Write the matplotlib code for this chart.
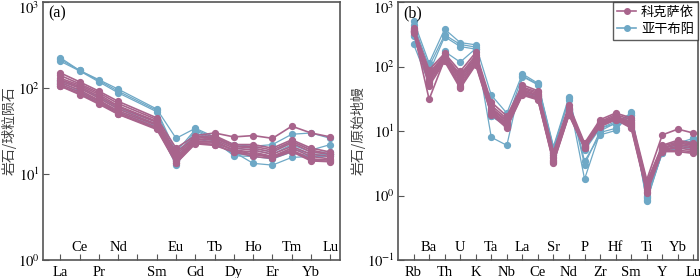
import numpy as np
import matplotlib
matplotlib.use('Agg')
import matplotlib.pyplot as plt
import matplotlib.transforms as mtransforms

plt.rcParams['font.family'] = ['serif', 'Noto Sans CJK SC']
plt.rcParams['font.serif'] = ['Liberation Serif', 'DejaVu Serif']
plt.rcParams['mathtext.fontset'] = 'stix'

# REE (chondrite normalised), Pm has a tick but no data
ree_ticks = ['La', 'Ce', 'Pr', 'Nd', 'Pm', 'Sm', 'Eu', 'Gd', 'Tb', 'Dy', 'Ho', 'Er', 'Tm', 'Yb', 'Lu']
ree_elems = ['La', 'Ce', 'Pr', 'Nd', 'Sm', 'Eu', 'Gd', 'Tb', 'Dy', 'Ho', 'Er', 'Tm', 'Yb', 'Lu']

ree_kksy = [
    [150, 118, 92, 70, 45, 20, 28, 30, 27, 28, 26, 36, 30, 27],
    [140, 112, 88, 66, 43, 18, 27, 28, 22, 22, 20, 25, 20, 18],
    [130, 108, 84, 62, 41, 17, 26, 27, 21, 21, 19, 24, 19, 17],
    [125, 104, 80, 60, 40, 16, 25, 26, 21, 20, 18, 23, 18, 17],
    [120, 100, 76, 57, 38, 15, 25, 25, 20, 19, 17, 21, 17, 16],
    [115, 95, 72, 54, 37, 14.5, 24, 24, 19, 18, 16, 20, 16, 15],
    [110, 90, 70, 52, 35, 14, 23, 23, 19, 17, 16, 19, 15, 14.5],
    [106, 86, 67, 50, 34, 13.5, 23, 22, 18, 17, 15.5, 18.5, 14.5, 14],
    [105, 84, 65, 49.5, 33, 13.3, 22.5, 21.5, 18, 16, 15.2, 18.2, 14.2, 13.9],
]
ree_ygby = [
    [225, 160, 125, 97, 57, 26, 34, 27, 22, 21, 22, 29, 30, 26],
    [215, 160, 122, 92, 55, 18, 33, 26, 21, 20, 18, 24, 19, 22],
    [205, 158, 118, 88, 53, 16, 32, 25, 20, 19, 17, 22, 18, 18],
    [125, 100, 78, 58, 40, 15, 30, 25, 18, 13.3, 12.7, 15.6, 16, 17],
    [118, 92, 72, 54, 38, 14, 28, 24, 16.3, 16, 15, 18, 16, 16],
    [112, 88, 68, 52, 36, 12.7, 26, 23, 17, 17, 16, 20, 17, 17],
]

# trace elements (primitive mantle normalised)
tr_elems = ['Rb', 'Ba', 'Th', 'U', 'K', 'Ta', 'Nb', 'La', 'Ce', 'Sr',
            'Nd', 'P', 'Zr', 'Hf', 'Sm', 'Ti', 'Y', 'Yb', 'Lu']
tr_kksy = [
    [400, 89, 160, 84, 165, 28, 17, 52, 42, 4.8, 25, 6.5, 15, 19, 16, 1.75, 8.7, 10.7, 9.3],
    [380, 80, 150, 75, 150, 25, 15.5, 48, 40, 4.5, 23, 6.2, 14, 18, 15, 1.6, 6.0, 7.2, 6.5],
    [370, 75, 145, 70, 140, 23, 14.5, 46, 38, 4.2, 22, 6.0, 13.5, 17, 14, 1.5, 5.8, 6.8, 6.2],
    [360, 70, 140, 65, 135, 22, 14, 44, 36, 4.0, 21, 5.9, 13, 16.5, 13.5, 1.4, 5.5, 6.5, 6.0],
    [350, 65, 135, 60, 125, 21, 13, 42, 35, 3.8, 20, 5.8, 12.5, 16, 13, 1.35, 5.3, 6.2, 5.7],
    [345, 60, 130, 55, 120, 20, 12.5, 40, 33, 3.6, 19.5, 5.7, 12, 15.5, 12.5, 1.3, 5.1, 5.8, 5.4],
    [340, 55, 125, 50, 115, 19, 12, 38, 32, 3.4, 18.5, 5.5, 12, 15, 12, 1.2, 5.0, 5.5, 5.0],
    [330, 50, 120, 46, 106, 18, 11.1, 36, 30.5, 3.2, 17.8, 5.4, 11.7, 15, 11.1, 1.11, 4.8, 4.8, 4.5],
    [360, 31, 130, 48, 110, 18.5, 11.5, 37, 31, 3.3, 18, 5.6, 12, 15.5, 11.5, 1.15, 4.9, 5.0, 4.8],
]
tr_ygby = [
    [516, 113, 380, 235, 217, 36, 18.9, 77, 55, 5.75, 34, 3.4, 8.7, 10.2, 20, 0.96, 4.5, 6.5, 7.7],
    [444, 100, 310, 220, 200, 8.0, 6.0, 70, 52, 5.5, 30.5, 1.8, 9.5, 11, 18, 0.81, 4.8, 6.0, 7.2],
    [310, 80, 290, 204, 186, 17, 14, 72, 53, 5.2, 32, 3.0, 10, 13.3, 19, 0.9, 5.0, 7.0, 6.5],
    [222, 55, 171, 117, 190, 16.8, 12, 40, 35, 4.5, 22, 5.0, 11, 13, 17.8, 0.85, 4.6, 5.5, 6.0],
    [300, 60, 160, 60, 130, 20, 13, 42, 34, 4.3, 21, 6.0, 11, 14, 15, 1.0, 4.7, 5.3, 5.5],
]

labels = ['科克萨依', '亚干布阳']
c_kk = '#A8648C'
c_yg = '#6EA8C6'
spine_c = '#555555'


def style_axes(ax, ticks, elems, decades, ylabel, tag):
    ax.set_yscale('log')
    ax.set_ylim(10.0 ** decades[0], 10.0 ** decades[-1])
    ax.yaxis.set_minor_locator(matplotlib.ticker.NullLocator())
    ax.set_yticks([10.0 ** d for d in decades])
    # top decade label is drawn separately so it stays inside the figure
    ax.set_yticklabels(['$10^{%d}$' % d for d in decades[:-1]] + [''])
    ax.annotate('$10^{%d}$' % decades[-1], xy=(0, 1), xycoords='axes fraction',
                xytext=(-3, 1), textcoords='offset points', ha='right', va='top', fontsize=10.5)
    ax.tick_params(axis='y', which='major', direction='in', length=4, pad=2,
                   labelsize=10.5, color=spine_c)
    ax.tick_params(axis='x', direction='in', length=4, pad=4, labelsize=10.5, color=spine_c)
    ax.set_xticks(np.arange(len(ticks)))
    # labels alternate below / above the axis, counted over the plotted elements only
    below = {e for i, e in enumerate(elems) if i % 2 == 0}
    ax.set_xticklabels([t if t in below else '' for t in ticks])
    trans = mtransforms.blended_transform_factory(ax.transData, ax.transAxes)
    for i, e in enumerate(elems):
        if i % 2 == 1:
            ax.text(ticks.index(e), 0.05, e, transform=trans, ha='center', va='center', fontsize=10.5)
    for s in ax.spines.values():
        s.set_color(spine_c)
        s.set_linewidth(1.2)
    ax.set_ylabel(ylabel, family=['Noto Sans CJK SC'], fontsize=10, color='#444444', labelpad=1)
    ax.text(0.017, 0.955, tag, transform=ax.transAxes, fontsize=11.5, va='center')


fig = plt.figure(figsize=(7, 2.78), dpi=100)
ax1 = fig.add_axes([0.0614, 0.0647, 0.4243, 0.928])
ax2 = fig.add_axes([0.5686, 0.0647, 0.4286, 0.928])

# panel (a) - REE, skip the Pm position
xr = [ree_ticks.index(e) for e in ree_elems]
for row in ree_ygby:
    ax1.plot(xr, row, '-o', color=c_yg, lw=0.9, ms=4.2)
for row in ree_kksy:
    ax1.plot(xr, row, '-o', color=c_kk, lw=1.2, ms=4.2)
ax1.set_xlim(-0.9, 14.5)
style_axes(ax1, ree_ticks, ree_elems, [0, 1, 2, 3], '岩石/球粒陨石', '(a)')

# panel (b) - spider diagram
xt = np.arange(len(tr_elems))
for row in tr_ygby:
    ax2.plot(xt, row, '-o', color=c_yg, lw=0.9, ms=4.2)
for row in tr_kksy:
    ax2.plot(xt, row, '-o', color=c_kk, lw=1.2, ms=4.2)
ax2.set_xlim(-1.0, 18.3)
style_axes(ax2, tr_elems, tr_elems, [-1, 0, 1, 2, 3], '岩石/原始地幔', '(b)')

h1, = ax2.plot([], [], '-o', color=c_kk, lw=1.2, ms=4)
h2, = ax2.plot([], [], '-o', color=c_yg, lw=1.2, ms=4)
leg = ax2.legend([h1, h2], labels, loc='upper right', borderaxespad=0,
                 fancybox=False, handlelength=1.4, labelspacing=0.3,
                 handletextpad=0.4, borderpad=0.3, prop={'family': 'Noto Sans CJK SC', 'size': 9.5})
leg.get_frame().set_edgecolor('#333333')
leg.get_frame().set_linewidth(1.0)

plt.savefig('out.png', dpi=100)
